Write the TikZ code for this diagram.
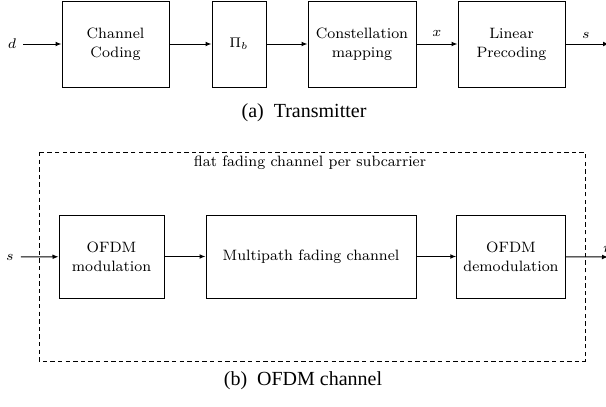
\documentclass[tikz,border=0pt]{standalone}
\usepackage{fontspec}
\newfontfamily\capfont{Liberation Serif}
\usetikzlibrary{arrows.meta}

\begin{document}
\begin{tikzpicture}[>={Latex[length=3pt,width=2.4pt]}, x=0.5pt, y=-0.5pt,
    font=\fontsize{7.5}{9.5}\selectfont,
    blk/.style={draw, line width=0.5pt, align=center, minimum height=43pt},
    sig/.style={->, line width=0.5pt},
    subcap/.style={font=\fontsize{10}{12}\selectfont\capfont}]
    \useasboundingbox (0,0) rectangle (606,407);
    % transmitter
    \node (d) at (12,44) {$d$};
    \node[blk, minimum width=53.5pt] (cc) at (115.5,44) {Channel\\Coding};
    \node[blk, minimum width=27pt] (pi) at (239,44) {$\Pi_b$};
    \node[blk, minimum width=54pt] (map) at (362,44) {Constellation\\mapping};
    \node[blk, minimum width=53.5pt] (prec) at (511.5,44) {Linear\\Precoding};
    \coordinate (sout) at (609,44);
    \draw[sig] (d) -- (cc);
    \draw[sig] (cc) -- (pi);
    \draw[sig] (pi) -- (map);
    \draw[sig] (map) -- node[above] (x) {$x$} (prec);
    \draw[sig] (prec) -- (sout);
    \node (s1) at (586,35) {$s$};
    \node[subcap] (capa) at (304,113) {(a)\enspace Transmitter};
    % ofdm channel
    \draw[line width=0.5pt, dash pattern=on 2.2pt off 1.6pt] (39,152) rectangle (585,361);
    \node (flat) at (310,163) {flat fading channel per subcarrier};
    \node (s2) at (10,257) {$s$};
    \node[blk, minimum width=52.5pt, minimum height=41.5pt] (mod) at (111.5,256.5) {OFDM\\modulation};
    \node[blk, minimum width=105pt, minimum height=41.5pt] (mp) at (311,256.5) {Multipath fading channel};
    \node[blk, minimum width=52pt, minimum height=41.5pt] (demod) at (511,256.5) {OFDM\\demodulation};
    \coordinate (rout) at (608,257);
    \draw[sig] (s2) -- (mod);
    \draw[sig] (mod) -- (mp);
    \draw[sig] (mp) -- (demod);
    \draw[sig] (demod) -- (rout);
    \node (r) at (607,249) {$r$};
    \node[subcap] (capb) at (303,381) {(b)\enspace OFDM channel};
\end{tikzpicture}
\end{document}
